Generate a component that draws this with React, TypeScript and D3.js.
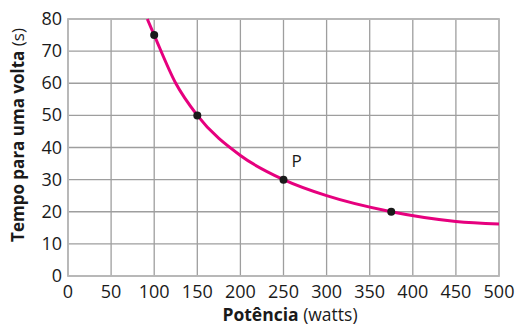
import React from "react";
import * as d3 from "d3";

const xTicks = [0, 50, 100, 150, 200, 250, 300, 350, 400, 450, 500];
const yTicks = [0, 10, 20, 30, 40, 50, 60, 70, 80];
const curveX = [92, 100, 125, 150, 200, 250, 300, 375, 450, 500];
const curveY = [80, 75, 60, 50, 37.5, 30, 25, 20, 17, 16.2];
const pointX = [100, 150, 250, 375];
const pointY = [75, 50, 30, 20];
const pointLabels = ["", "", "P", ""];

export default function App() {
  const W = 519, H = 327;
  const left = 68, right = 499, top = 19, bottom = 276;
  const x = d3.scaleLinear().domain([0, 500]).range([left, right]);
  const y = d3.scaleLinear().domain([0, 80]).range([bottom, top]);
  const pts: [number, number][] = curveX.map((v, i) => [v, curveY[i]]);
  const line = d3.line<[number, number]>().x(d => x(d[0])).y(d => y(d[1])).curve(d3.curveMonotoneX);
  const font = "'Open Sans', 'Noto Sans', sans-serif";
  return (
    <svg width={W} height={H} style={{ position: "absolute", left: 0, top: 0 }} fontFamily={font}>
      <rect width={W} height={H} fill="#fff" />
      {xTicks.map(t => (
        <line key={"gx" + t} x1={x(t)} x2={x(t)} y1={top} y2={bottom} stroke="#9e9e9e" strokeWidth={1.3} />
      ))}
      {yTicks.map(t => (
        <line key={"gy" + t} x1={left} x2={right} y1={y(t)} y2={y(t)} stroke="#9e9e9e" strokeWidth={1.3} />
      ))}
      <rect x={left} y={top} width={right - left} height={bottom - top} fill="none" stroke="#b8b8b8" strokeWidth={1.8} />
      <path d={line(pts) || ""} fill="none" stroke="#e6007e" strokeWidth={3} />
      {pointX.map((v, i) => (
        <circle key={"p" + i} cx={x(v)} cy={y(pointY[i])} r={4} fill="#1a1a1a" />
      ))}
      {pointX.map((v, i) => pointLabels[i] ? (
        <text key={"l" + i} x={x(v) + 8} y={y(pointY[i]) - 13} fontSize={17} fill="#1a1a1a">{pointLabels[i]}</text>
      ) : null)}
      {xTicks.map(t => (
        <text key={"tx" + t} x={x(t)} y={298} textAnchor="middle" fontSize={18} fill="#1a1a1a">{t}</text>
      ))}
      {yTicks.map(t => (
        <text key={"ty" + t} x={62} y={y(t) + 6} textAnchor="end" fontSize={18} fill="#1a1a1a">{t}</text>
      ))}
      <text x={290} y={321} textAnchor="middle" fontSize={17.5} fill="#1a1a1a">
        <tspan fontWeight="bold">Potência</tspan> (watts)
      </text>
      <text transform={`translate(24,135) rotate(-90)`} textAnchor="middle" fontSize={17} fill="#1a1a1a">
        <tspan fontWeight="bold">Tempo para uma volta</tspan> (s)
      </text>
    </svg>
  );
}
